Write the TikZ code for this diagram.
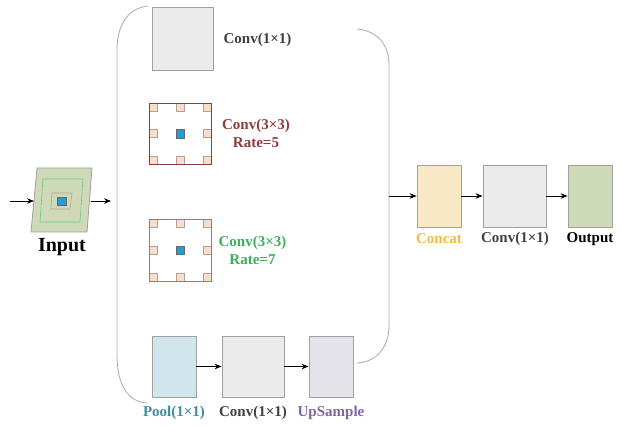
\documentclass[tikz,border=0pt]{standalone}
\usepackage{fontspec}
\setmainfont{Liberation Serif}
\usetikzlibrary{arrows.meta}
\definecolor{boxgray}{HTML}{A0A0A0}
\definecolor{bracegray}{HTML}{A8A8A8}
\definecolor{convfill}{HTML}{EBEBEB}
\definecolor{poolfill}{HTML}{D0E6EC}
\definecolor{upfill}{HTML}{E4E3EA}
\definecolor{catfill}{HTML}{F9E8C6}
\definecolor{outfill}{HTML}{CDD9B7}
\definecolor{txtgray}{HTML}{404040}
\definecolor{redc}{HTML}{8E3B3B}
\definecolor{greenc}{HTML}{3DAE5B}
\definecolor{tealc}{HTML}{3E8E9E}
\definecolor{purplec}{HTML}{7F63A5}
\definecolor{orangec}{HTML}{F5B841}
\definecolor{peach}{HTML}{F9DDCB}
\definecolor{peachline}{HTML}{B0A095}
\definecolor{bluec}{HTML}{1E9FD8}
\definecolor{innergreen}{HTML}{6CC890}
\definecolor{innerbrown}{HTML}{B8A08A}
\begin{document}
\begin{tikzpicture}[x=1pt,y=-1pt,
  blk/.style={draw=boxgray, line width=0.8pt, inner sep=0pt},
  lbl/.style={font=\bfseries\fontsize{15}{18}\selectfont, inner sep=0pt, align=center},
  arr/.style={line width=0.8pt, -{Stealth[length=7pt,width=5.5pt]}},
  brace/.style={draw=bracegray, line width=0.8pt},
  dot/.style={draw=peachline, fill=peach, line width=0.4pt, minimum size=8pt, inner sep=0pt, outer sep=0pt},
  ctr/.style={draw=black!60, fill=bluec, line width=0.4pt, minimum size=8.5pt, inner sep=0pt}]
\useasboundingbox (0,0) rectangle (622,427);

% braces
\draw[brace] (148,6) .. controls (128,8) and (117,25) .. (117,50) -- (117,355) .. controls (117,385) and (128,402) .. (147,403);
\draw[brace] (357,29) .. controls (378,31) and (389,45) .. (389,65) -- (389,325) .. controls (389,348) and (376,362) .. (357,363);

% input
\draw[draw=boxgray, fill=outfill, line width=0.8pt] (37,168) -- (92,168) -- (87,232) -- (31,232) -- cycle;
\draw[draw=innergreen, line width=0.6pt] (43,179) -- (83,179) -- (80,222) -- (40,222) -- cycle;
\draw[draw=innerbrown, line width=0.6pt] (52,193) -- (72,193) -- (70,209) -- (51,209) -- cycle;
\node[ctr] (inc) at (61.5,201) {};
\node[lbl, font=\bfseries\fontsize{20}{24}\selectfont] (inlbl) at (62,247) {Input};
\coordinate (inS) at (10,201);
\coordinate (inW) at (34,201);
\coordinate (inE) at (91,201);
\coordinate (bL) at (111,201);
\draw[arr] (inS) -- (inW);
\draw[arr] (inE) -- (bL);

% branch 1
\node[blk, fill=convfill, minimum width=61pt, minimum height=63pt] (c1) at (182.5,38.5) {};
\node[lbl, text=txtgray] (c1l) at (257.5,40) {Conv(1×1)};

% branch 2
\node[fill=white, inner sep=0pt, outer sep=0pt, minimum width=62pt, minimum height=61pt] (r5) at (180,133.5) {};
\foreach \a in {north west,north,north east,west,east,south west,south,south east}
  \node[dot, anchor=\a] at (r5.\a) {};
\draw[redc, line width=0.9pt] (r5.north west) rectangle (r5.south east);
\node[ctr] (r5c) at (r5.center) {};
\node[lbl, text=redc] (r5l) at (256,133) {Conv(3×3)\\Rate=5};

% branch 3
\node[fill=white, inner sep=0pt, outer sep=0pt, minimum width=62pt, minimum height=62pt] (r7) at (180,250) {};
\foreach \a in {north west,north,north east,west,east,south west,south,south east}
  \node[dot, anchor=\a] at (r7.\a) {};
\draw[greenc, line width=0.9pt] (r7.north west) rectangle (r7.south east);
\node[ctr] (r7c) at (r7.center) {};
\node[lbl, text=greenc] (r7l) at (252.5,250) {Conv(3×3)\\Rate=7};

% branch 4
\node[blk, fill=poolfill, minimum width=44pt, minimum height=61pt] (pool) at (174,366.5) {};
\node[blk, fill=convfill, minimum width=62pt, minimum height=61pt] (pc) at (253,366.5) {};
\node[blk, fill=upfill, minimum width=44pt, minimum height=61pt] (up) at (331,366.5) {};
\node[lbl, text=tealc] (pooll) at (174,413) {Pool(1×1)};
\node[lbl, text=txtgray] (pcl) at (253,413) {Conv(1×1)};
\node[lbl, text=purplec] (upl) at (331,413) {UpSample};
\draw[arr] (pool) -- (pc);
\draw[arr] (pc) -- (up);

% right part
\node[blk, fill=catfill, minimum width=44pt, minimum height=62pt] (cat) at (439,196) {};
\node[blk, fill=convfill, minimum width=63pt, minimum height=62pt] (oc) at (514.5,196) {};
\node[blk, fill=outfill, minimum width=44pt, minimum height=62pt] (out) at (590,196) {};
\node[lbl, text=orangec] (catl) at (439,239) {Concat};
\node[lbl, text=txtgray] (ocl) at (515,239) {Conv(1×1)};
\node[lbl, text=black] (outl) at (590,239) {Output};
\coordinate (bR) at (389,196);
\draw[arr] (bR) -- (cat);
\draw[arr] (cat) -- (oc);
\draw[arr] (oc) -- (out);
\end{tikzpicture}
\end{document}
